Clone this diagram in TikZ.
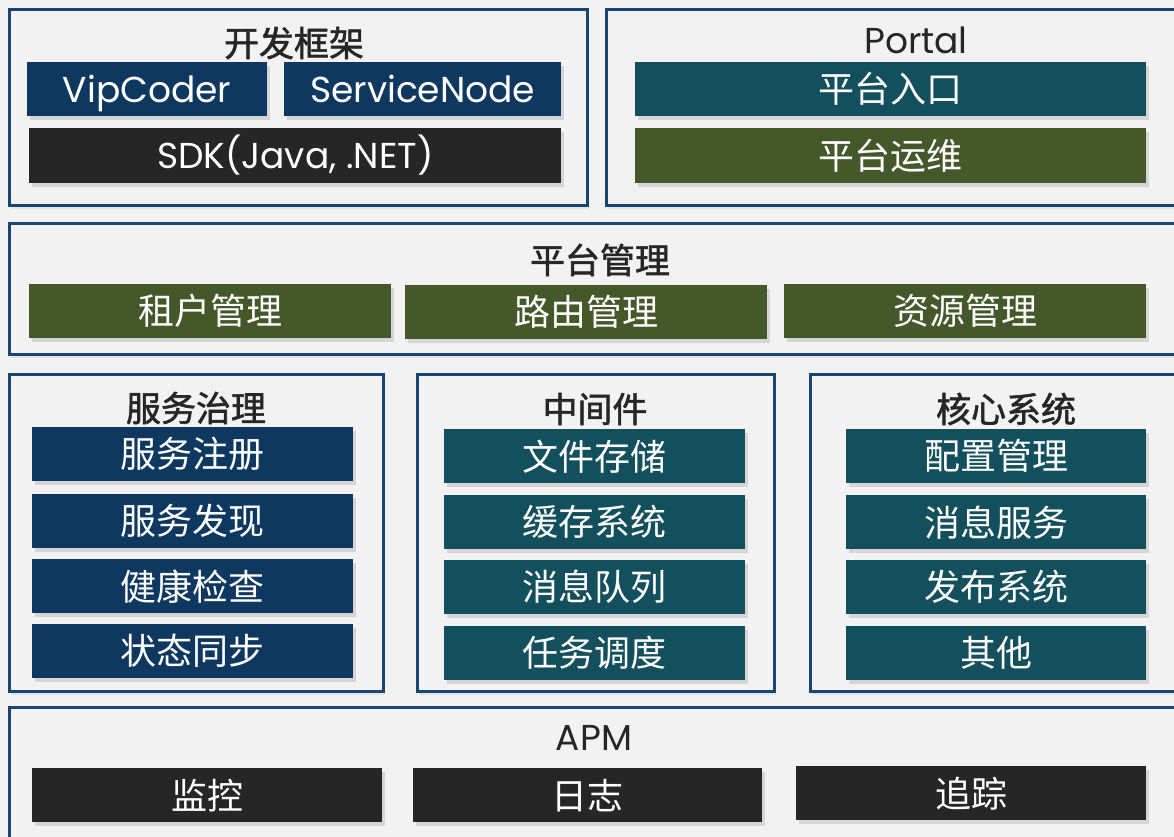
\documentclass[tikz,border=0pt]{standalone}
\usepackage{fontspec}
\setmainfont{Poppins}
\newfontfamily\cjk{Noto Sans CJK SC}
\newfontfamily\cjkb[FakeBold=1.6]{Noto Sans CJK SC}
\usetikzlibrary{shadows}
\definecolor{bgc}{HTML}{F2F2F2}
\definecolor{framec}{HTML}{184670}
\definecolor{navy}{HTML}{0F3861}
\definecolor{teal}{HTML}{134F5C}
\definecolor{olive}{HTML}{44582A}
\definecolor{blk}{HTML}{262626}
\definecolor{ttl}{HTML}{262626}
\tikzset{
  frame/.style={draw=framec, line width=2.7pt, fill=bgc, anchor=north west,
    drop shadow={opacity=0.12, shadow xshift=2pt, shadow yshift=-4pt}},
  box/.style={fill=#1, text=white, anchor=north west, inner sep=0pt,
    font=\fontsize{36}{40}\selectfont,
    drop shadow={opacity=0.25, shadow xshift=3pt, shadow yshift=-4pt}},
  lbox/.style={box=#1, text height=26pt, text depth=0pt},
  cbox/.style={box=#1, font=\cjk\fontsize{36}{40}\selectfont},
  ttlc/.style={text=ttl, font=\cjkb\fontsize{35}{40}\selectfont, inner sep=0pt},
  ttll/.style={text=ttl, font=\fontsize{36}{40}\selectfont, inner sep=0pt}
}
\begin{document}
\begin{tikzpicture}[x=1pt, y=-1pt]
\clip (0,0) rectangle (1174,837);
\fill[bgc] (0,0) rectangle (1174,837);

% frames
\node[frame, minimum width=578pt, minimum height=196pt] (fwF) at (8,8) {};
\node[frame, minimum width=580pt, minimum height=196pt] (portalF) at (605,8) {};
\node[frame, minimum width=1177pt, minimum height=131pt] (mgmtF) at (8,222) {};
\node[frame, minimum width=374pt, minimum height=317pt] (govF) at (8,373) {};
\node[frame, minimum width=357pt, minimum height=317pt] (midF) at (416,373) {};
\node[frame, minimum width=376pt, minimum height=317pt] (coreF) at (809,373) {};
\node[frame, minimum width=1177pt, minimum height=150pt] (apmF) at (8,706) {};

% titles
\node[ttlc] (fwT) at (294,43) {开发框架};
\node[ttll] (portalT) at (916,40) {Portal};
\node[ttlc] (mgmtT) at (600,260) {平台管理};
\node[ttlc] (govT) at (196,408) {服务治理};
\node[ttlc] (midT) at (595,409) {中间件};
\node[ttlc] (coreT) at (1006,409) {核心系统};
\node[ttll] (apmT) at (594,738) {APM};

% development framework
\node[lbox=navy, minimum width=240pt, minimum height=54pt] (vip) at (27,62) {VipCoder};
\node[lbox=navy, minimum width=277pt, minimum height=54pt] (sn) at (284,62) {ServiceNode};
\node[lbox=blk, minimum width=532pt, minimum height=55pt] (sdk) at (29,128) {SDK(Java, .NET)};

% portal
\node[cbox=teal, minimum width=511pt, minimum height=54pt] (entry) at (635,62) {平台入口};
\node[cbox=olive, minimum width=511pt, minimum height=55pt] (ops) at (635,128) {平台运维};

% platform management
\node[cbox=olive, minimum width=362pt, minimum height=54pt] (tenant) at (29,284) {租户管理};
\node[cbox=olive, minimum width=362pt, minimum height=54pt] (route) at (405,285) {路由管理};
\node[cbox=olive, minimum width=362pt, minimum height=54pt] (res) at (784,284) {资源管理};

% service governance
\node[cbox=navy, minimum width=321pt, minimum height=54pt] (reg) at (32,427) {服务注册};
\node[cbox=navy, minimum width=321pt, minimum height=54pt] (disc) at (32,494) {服务发现};
\node[cbox=navy, minimum width=321pt, minimum height=54pt] (health) at (32,559) {健康检查};
\node[cbox=navy, minimum width=321pt, minimum height=54pt] (sync) at (32,624) {状态同步};

% middleware
\node[cbox=teal, minimum width=301pt, minimum height=54pt] (file) at (444,429) {文件存储};
\node[cbox=teal, minimum width=301pt, minimum height=54pt] (cache) at (444,495) {缓存系统};
\node[cbox=teal, minimum width=301pt, minimum height=54pt] (mq) at (444,560) {消息队列};
\node[cbox=teal, minimum width=301pt, minimum height=54pt] (job) at (444,626) {任务调度};

% core system
\node[cbox=teal, minimum width=300pt, minimum height=54pt] (conf) at (846,429) {配置管理};
\node[cbox=teal, minimum width=300pt, minimum height=54pt] (msg) at (846,495) {消息服务};
\node[cbox=teal, minimum width=300pt, minimum height=54pt] (pub) at (846,560) {发布系统};
\node[cbox=teal, minimum width=300pt, minimum height=54pt] (other) at (846,626) {其他};

% APM
\node[cbox=blk, minimum width=350pt, minimum height=54pt] (mon) at (32,768) {监控};
\node[cbox=blk, minimum width=349pt, minimum height=54pt] (log) at (413,768) {日志};
\node[cbox=blk, minimum width=350pt, minimum height=54pt] (trace) at (796,766) {追踪};
\end{tikzpicture}
\end{document}
